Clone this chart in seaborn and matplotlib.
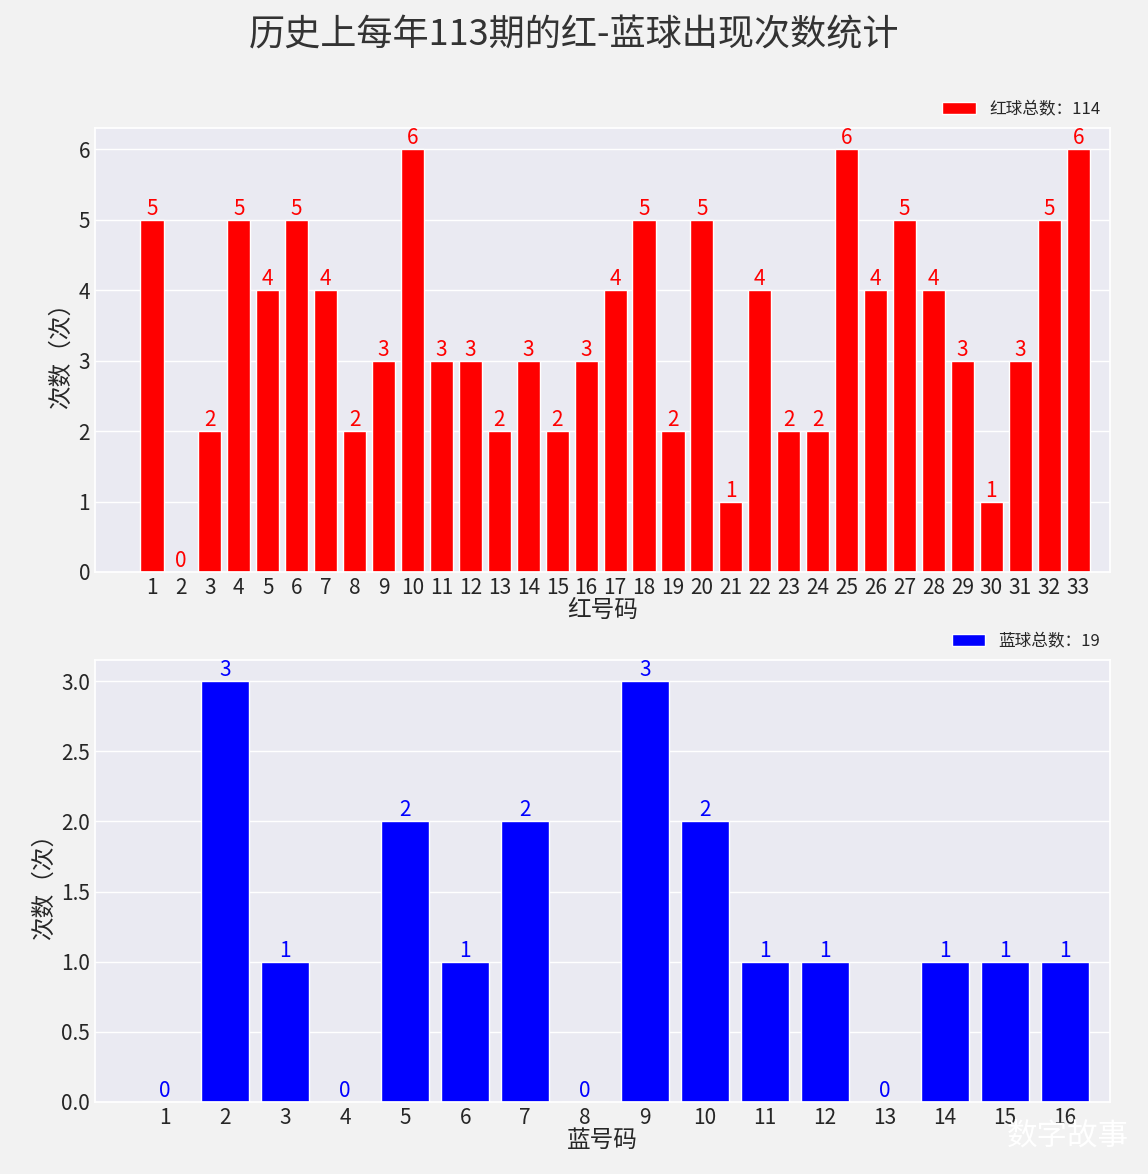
import numpy as np
import pandas as pd
import matplotlib
matplotlib.use("Agg")
import matplotlib.pyplot as plt
import seaborn as sns

# data
red_nums = list(range(1, 34))
red_counts = [5, 0, 2, 5, 4, 5, 4, 2, 3, 6, 3, 3, 2, 3, 2, 3, 4,
              5, 2, 5, 1, 4, 2, 2, 6, 4, 5, 4, 3, 1, 3, 5, 6]
blue_nums = list(range(1, 17))
blue_counts = [0, 3, 1, 0, 2, 1, 2, 0, 3, 2, 1, 1, 0, 1, 1, 1]

sns.set_theme(style="darkgrid", rc={
    "font.family": "Noto Sans CJK SC",
    "axes.unicode_minus": False,
    "figure.facecolor": "#f2f2f2",
    "axes.facecolor": "#eaeaf2",
})

fig = plt.figure(figsize=(11.48, 11.74), dpi=100)
ax1 = fig.add_axes([95 / 1148, 1 - 572 / 1174, 1015 / 1148, 444 / 1174])
ax2 = fig.add_axes([95 / 1148, 1 - 1102 / 1174, 1015 / 1148, 442 / 1174])

red_df = pd.DataFrame({"num": [str(n) for n in red_nums], "cnt": red_counts})
blue_df = pd.DataFrame({"num": [str(n) for n in blue_nums], "cnt": blue_counts})

sns.barplot(data=red_df, x="num", y="cnt", color="red", saturation=1,
            width=0.8, ax=ax1, label=f"红球总数：{sum(red_counts)}")
sns.barplot(data=blue_df, x="num", y="cnt", color="blue", saturation=1,
            width=0.8, ax=ax2, label=f"蓝球总数：{sum(blue_counts)}")

for ax, counts, col in [(ax1, red_counts, "red"), (ax2, blue_counts, "blue")]:
    for i, v in enumerate(counts):
        ax.text(i, v, str(v), ha="center", va="bottom", color=col, fontsize=15)
    ax.tick_params(labelsize=15, length=0)
    ax.legend(loc="lower right", bbox_to_anchor=(1.0, 1.0), frameon=False,
              fontsize=12, borderaxespad=0.2)

ax1.set_xlim(-1.97, 33.1)
ax1.set_ylim(0, 6.3)
ax1.set_ylabel("次数（次）", fontsize=17)
ax1.set_xlabel("红号码", fontsize=17, labelpad=0)

ax2.set_xlim(-1.17, 15.75)
ax2.set_ylim(0, 3.15)
ax2.set_yticks([0, 0.5, 1.0, 1.5, 2.0, 2.5, 3.0])
ax2.set_yticklabels(["0.0", "0.5", "1.0", "1.5", "2.0", "2.5", "3.0"])
ax2.set_ylabel("次数（次）", fontsize=17)
ax2.set_xlabel("蓝号码", fontsize=17, labelpad=0)

fig.suptitle("历史上每年113期的红-蓝球出现次数统计", fontsize=26, y=0.985, color="#333333")
fig.text(0.93, 0.025, "数字故事", color="white", fontsize=22, ha="center")

fig.savefig("out.png", dpi=100)
